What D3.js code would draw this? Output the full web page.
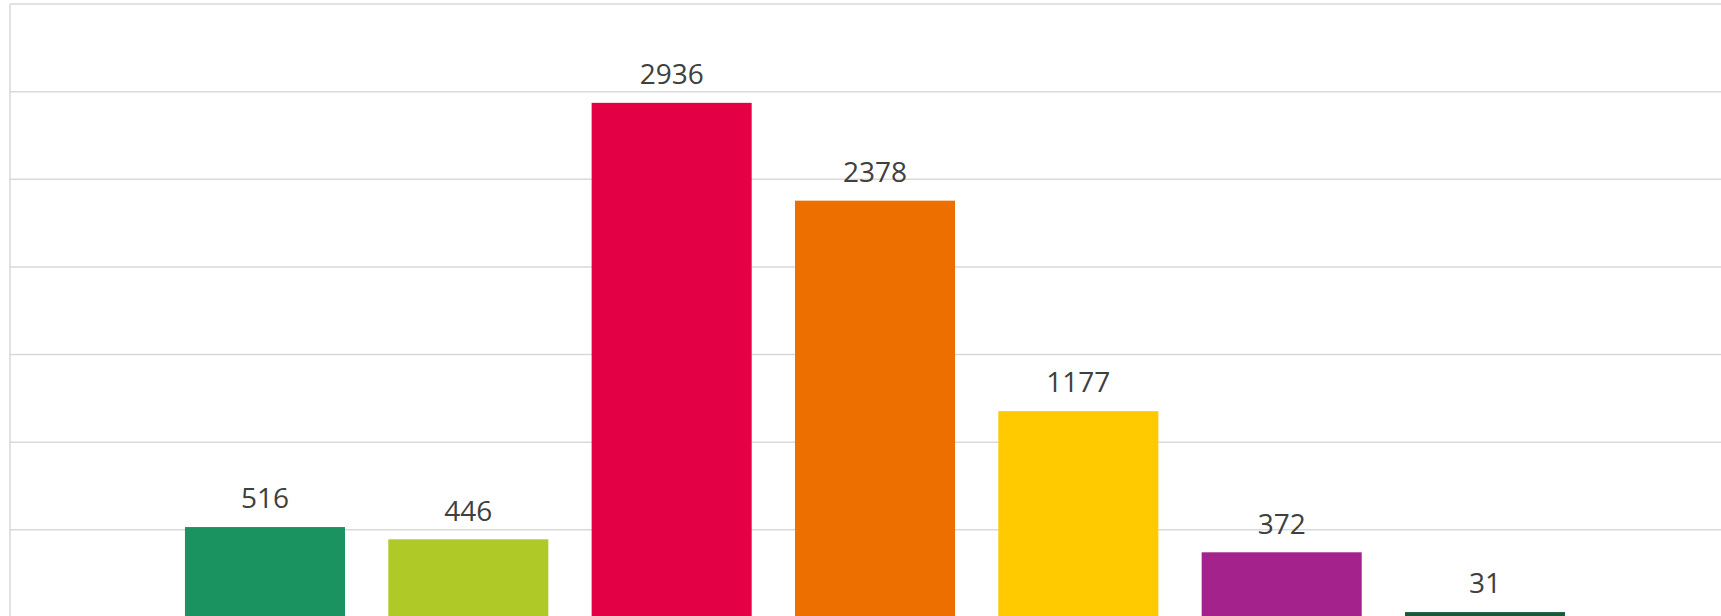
<!DOCTYPE html>
<html>
<head>
<meta charset="utf-8">
<script src="https://cdn.jsdelivr.net/npm/d3@7"></script>
<style>
  html, body { margin: 0; padding: 0; background: #ffffff; overflow: hidden; }
  svg { display: block; }
</style>
</head>
<body>
<svg id="chart" width="1721" height="616"></svg>
<script>
const categories = ["Cat 1", "Cat 2", "Cat 3", "Cat 4", "Cat 5", "Cat 6", "Cat 7"];
const values = [516, 446, 2936, 2378, 1177, 372, 31];
const colors = ["#1B9360", "#AFCA26", "#E30045", "#EC6F00", "#FFCA00", "#A3228C", "#175B3B"];
const yTicks = [0, 500, 1000, 1500, 2000, 2500, 3000, 3500];

const svg = d3.select("#chart");

const y = d3.scaleLinear().domain([0, 3500]).range([617.5, 4]);
const x = d3.scaleBand().domain(categories).range([163.3, 1586.7])
  .paddingInner(0.213).paddingOuter(0.1065);

// gridlines
svg.append("g").selectAll("line").data(yTicks).join("line")
  .attr("x1", 10).attr("x2", 1721)
  .attr("y1", d => y(d)).attr("y2", d => y(d))
  .attr("stroke", "#d9d9d9").attr("stroke-width", 1.5);

// left axis line
svg.append("line")
  .attr("x1", 10).attr("x2", 10)
  .attr("y1", y(3500)).attr("y2", 620)
  .attr("stroke", "#d9d9d9").attr("stroke-width", 1.5);

// bars
svg.append("g").selectAll("rect").data(values).join("rect")
  .attr("x", (d, i) => x(categories[i]))
  .attr("width", x.bandwidth())
  .attr("y", d => y(d))
  .attr("height", d => y(0) - y(d))
  .attr("fill", (d, i) => colors[i]);

// labels
svg.append("g").selectAll("text").data(values).join("text")
  .attr("x", (d, i) => x(categories[i]) + x.bandwidth() / 2)
  .attr("y", d => y(d) - 18.7)
  .attr("text-anchor", "middle")
  .attr("font-family", "'Open Sans', sans-serif")
  .attr("font-size", "28px")
  .attr("fill", "#404040")
  .text(d => d);
</script>
</body>
</html>
